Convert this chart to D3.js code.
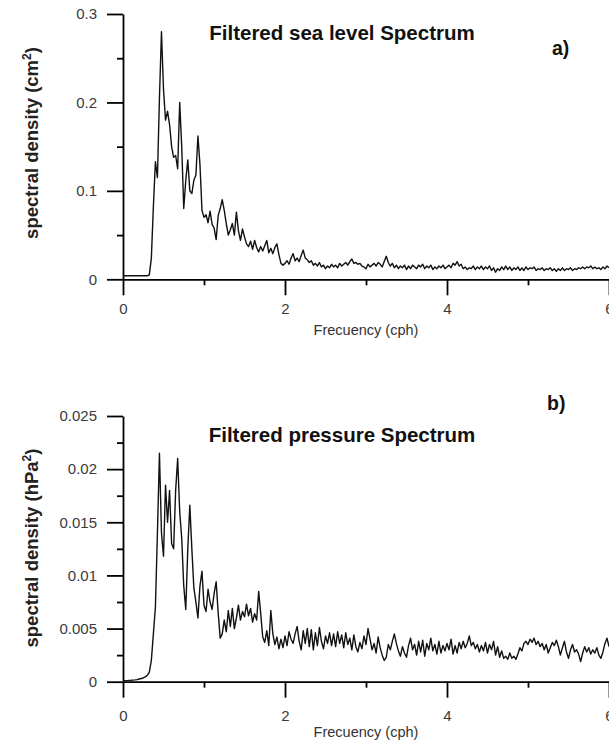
<!DOCTYPE html>
<html>
<head>
<meta charset="utf-8">
<script src="https://cdn.jsdelivr.net/npm/d3@7"></script>
<style>
  body { margin: 0; background: #fff; }
  svg { display: block; font-family: "Liberation Sans", Arial, sans-serif; }
  .axis path, .axis line { stroke: #000; stroke-width: 1.8; }
  .axis text { fill: #3a3a3a; font-size: 15px; font-family: "Liberation Sans", Arial, sans-serif; }
  .title { font-weight: bold; font-size: 20.5px; fill: #111; }
  .tag { font-weight: bold; font-size: 19.5px; fill: #111; }
  .ylabel { font-weight: bold; font-size: 18.5px; fill: #222; }
  .xlabel { font-size: 14.5px; fill: #333; }
</style>
</head>
<body>
<script>
// frequency grid step (cph)
const freqStep = 0.025

const freqTicks = [0, 2, 4, 6]
const freqMinor = [1, 3, 5]

const seaTicks = [0, 0.1, 0.2, 0.3]
const seaMinor = [0.05, 0.15, 0.25]
const pressureTicks = [0, 0.005, 0.01, 0.015, 0.02, 0.025]
const pressureMinor = [0.0025, 0.0075, 0.0125, 0.0175, 0.0225]

// sea level spectral density (cm^2), one value every 0.025 cph from 0 to 6
const seaLevel = [
  .004,.004,.004,.004,.004,.004,.004,.004,.004,.004,
  .004,.004,.004,.005,.024,.082,.133,.115,.205,.280,
  .215,.180,.190,.175,.150,.138,.140,.125,.200,.150,
  .080,.112,.135,.100,.097,.112,.118,.162,.130,.078,
  .070,.073,.064,.077,.062,.058,.045,.072,.080,.090,
  .078,.063,.050,.056,.063,.050,.076,.055,.044,.057,
  .048,.040,.037,.043,.034,.044,.036,.031,.037,.032,
  .038,.044,.030,.035,.029,.036,.040,.028,.018,.016,
  .018,.021,.017,.024,.029,.021,.024,.020,.027,.033,
  .024,.022,.019,.021,.016,.018,.015,.019,.014,.016,
  .012,.015,.013,.017,.014,.016,.013,.018,.015,.017,
  .019,.016,.020,.023,.018,.019,.017,.018,.015,.014,
  .012,.017,.014,.016,.018,.015,.019,.017,.014,.020,
  .026,.019,.015,.018,.013,.016,.012,.015,.013,.016,
  .011,.015,.012,.016,.014,.012,.016,.014,.017,.012,
  .015,.013,.016,.011,.014,.012,.015,.013,.016,.012,
  .014,.016,.013,.018,.016,.020,.015,.017,.012,.014,
  .011,.013,.012,.015,.011,.014,.012,.015,.011,.014,
  .012,.015,.010,.013,.008,.012,.010,.014,.011,.015,
  .011,.014,.010,.013,.011,.014,.010,.013,.010,.014,
  .011,.013,.012,.014,.010,.012,.011,.013,.010,.012,
  .011,.013,.010,.012,.009,.012,.010,.013,.010,.012,
  .011,.013,.010,.012,.011,.013,.012,.014,.012,.014,
  .013,.015,.012,.014,.012,.013,.011,.014,.012,.015,
  .013
]

// pressure spectral density (hPa^2), same frequency grid
const pressure = [
  .0001,.0001,.0001,.00012,.00013,.00015,.00017,.0002,.00025,.0003,
  .00035,.00045,.0006,.0009,.002,.0045,.007,.014,.0215,.014,
  .0118,.0185,.015,.018,.013,.0125,.018,.021,.016,.0135,
  .009,.0068,.0125,.0166,.0125,.0088,.0075,.006,.009,.0104,
  .0072,.0066,.0087,.0075,.0068,.0083,.0094,.0065,.0041,.0045,
  .0058,.0047,.0067,.0052,.0069,.0050,.0060,.0072,.0058,.0066,
  .0061,.0073,.0062,.0069,.0056,.0064,.0058,.0085,.0064,.0042,
  .0037,.0048,.0034,.0067,.0045,.0035,.0042,.0031,.0040,.0032,
  .0043,.0034,.0047,.0040,.0036,.0045,.0052,.0038,.0030,.0048,
  .0036,.0050,.0033,.0049,.0030,.0046,.0034,.0051,.0038,.0031,
  .0043,.0036,.0046,.0034,.0045,.0033,.0047,.0036,.0044,.0032,
  .0046,.0035,.0041,.0030,.0044,.0033,.0028,.0037,.0031,.0043,
  .0035,.0050,.0040,.0030,.0036,.0027,.0042,.0032,.0025,.0020,
  .0023,.0035,.0030,.0038,.0045,.0036,.0029,.0024,.0033,.0027,
  .0023,.0034,.0041,.0030,.0035,.0025,.0038,.0028,.0039,.0024,
  .0036,.0030,.0041,.0029,.0035,.0026,.0038,.0027,.0034,.0029,
  .0036,.0030,.0040,.0026,.0034,.0027,.0037,.0031,.0038,.0032,
  .0036,.0043,.0034,.0037,.0031,.0035,.0028,.0034,.0029,.0037,
  .0027,.0035,.0030,.0038,.0025,.0033,.0023,.0029,.0022,.0024,
  .0021,.0027,.0022,.0024,.0021,.0026,.0032,.0029,.0036,.0038,
  .0035,.0040,.0037,.0041,.0035,.0038,.0033,.0036,.0030,.0035,
  .0027,.0032,.0037,.0034,.0039,.0033,.0025,.0032,.0038,.0028,
  .0022,.0030,.0035,.0028,.0030,.0026,.0019,.0027,.0033,.0028,
  .0032,.0026,.0030,.0027,.0032,.0025,.0022,.0028,.0036,.0041,
  .0033
]

const width = 609, height = 742

const svg = d3.select('body')
  .append('svg')
    .attr('width', width)
    .attr('height', height)

const x = d3.scaleLinear().domain([0, 6]).range([123, 609])

const drawPanel = (opts) => {
  const { values, yMax, yTop, yBottom, ticks, minor, title, titleY, tag, tagX, tagY, unit, labelY, xLabelY, tickPad } = opts
  const y = d3.scaleLinear().domain([0, yMax]).range([yBottom, yTop])
  const g = svg.append('g')

  // minor ticks first
  g.append('g')
    .attr('class', 'axis')
    .attr('transform', `translate(0, ${yBottom})`)
    .call(d3.axisBottom(x).tickValues(freqMinor).tickSize(6).tickFormat(''))
    .call(a => a.select('.domain').remove())

  g.append('g')
    .attr('class', 'axis')
    .attr('transform', `translate(${x(0)}, 0)`)
    .call(d3.axisLeft(y).tickValues(minor).tickSize(6).tickFormat(''))
    .call(a => a.select('.domain').remove())

  // major axes
  g.append('g')
    .attr('class', 'axis')
    .attr('transform', `translate(0, ${yBottom})`)
    .call(d3.axisBottom(x).tickValues(freqTicks).tickSize(16).tickSizeOuter(0)
      .tickPadding(tickPad).tickFormat(d => d))

  g.append('g')
    .attr('class', 'axis')
    .attr('transform', `translate(${x(0)}, 0)`)
    .call(d3.axisLeft(y).tickValues(ticks).tickSize(16).tickSizeOuter(0)
      .tickPadding(10).tickFormat(d => d))

  // spectrum line
  const line = d3.line()
    .x((d, i) => x(i * freqStep))
    .y(d => y(d))

  g.append('path')
    .datum(values)
    .attr('d', line)
    .attr('fill', 'none')
    .attr('stroke', '#111')
    .attr('stroke-width', 1.4)
    .attr('stroke-linejoin', 'round')

  g.append('text')
    .attr('class', 'title')
    .attr('x', 342)
    .attr('y', titleY)
    .attr('text-anchor', 'middle')
    .text(title)

  g.append('text')
    .attr('class', 'tag')
    .attr('x', tagX)
    .attr('y', tagY)
    .text(tag)

  g.append('text')
    .attr('class', 'xlabel')
    .attr('x', 366)
    .attr('y', xLabelY)
    .attr('text-anchor', 'middle')
    .text('Frecuency (cph)')

  const yl = g.append('text')
    .attr('class', 'ylabel')
    .attr('transform', `translate(38, ${labelY}) rotate(-90)`)
    .attr('text-anchor', 'middle')
  yl.append('tspan').text(`spectral density (${unit}`)
  yl.append('tspan').attr('dy', -7).style('font-size', '12px').text('2')
  yl.append('tspan').attr('dy', 7).text(')')
}

drawPanel({
  values: seaLevel, yMax: 0.3, yTop: 14, yBottom: 279.3,
  ticks: seaTicks, minor: seaMinor,
  title: 'Filtered sea level Spectrum', titleY: 40,
  tag: 'a)', tagX: 552, tagY: 55,
  unit: 'cm', labelY: 143, xLabelY: 335, tickPad: 8
})

drawPanel({
  values: pressure, yMax: 0.025, yTop: 416, yBottom: 681.7,
  ticks: pressureTicks, minor: pressureMinor,
  title: 'Filtered pressure Spectrum', titleY: 442,
  tag: 'b)', tagX: 547, tagY: 410,
  unit: 'hPa', labelY: 548, xLabelY: 737, tickPad: 13
})
</script>
</body>
</html>
